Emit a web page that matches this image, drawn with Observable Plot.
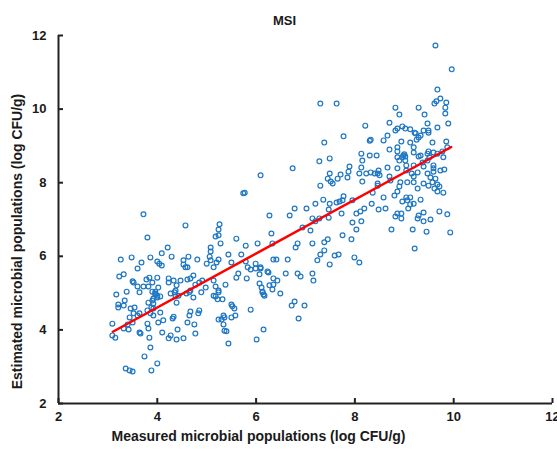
<!DOCTYPE html>
<html>
<head>
<meta charset="utf-8">
<script src="https://cdn.jsdelivr.net/npm/d3@7"></script>
<script src="https://cdn.jsdelivr.net/npm/@observablehq/plot@0.6"></script>
<style>
  html, body { margin: 0; padding: 0; background: #fff; }
  #chart svg { display: block; }
</style>
</head>
<body>
<div id="chart"></div>
<script>
const chartTitle = "MSI";
const xLabel = "Measured microbial populations (log CFU/g)";
const yLabel = "Estimated microbial populations (log CFU/g)";
const xTicks = [2, 4, 6, 8, 10, 12];
const yTicks = [2, 4, 6, 8, 10, 12];

const measured = [
  3.72,3.80,3.26,3.48,3.68,3.86,3.60,3.23,3.32,3.50,
  3.52,3.38,3.17,3.21,3.21,3.32,3.34,3.46,3.54,3.60,
  3.64,3.72,3.78,3.84,3.90,3.82,3.96,4.00,3.82,3.90,
  3.92,3.88,3.80,3.86,3.92,3.64,3.60,3.52,3.44,3.50,
  3.40,3.32,3.42,3.09,3.09,3.15,3.64,3.66,3.80,3.82,
  3.84,3.86,3.74,4.00,3.88,3.36,3.44,3.50,
  3.96,4.00,4.06,3.92,4.35,4.37,4.43,4.39,4.65,4.89,
  5.14,5.22,5.32,5.24,5.50,5.52,5.56,5.89,6.13,6.17,
  3.92,4.06,4.12,4.02,4.33,4.31,4.67,4.85,4.83,4.65,
  4.61,4.75,5.34,5.36,5.30,5.24,5.50,5.58,5.34,4.10,
  4.27,4.23,4.39,4.53,4.41,4.77,5.36,5.40,5.44,6.01,
  6.15,
  5.74,5.77,4.57,5.26,5.24,5.18,5.24,5.28,5.60,5.79,
  6.03,4.21,5.08,5.08,5.06,4.09,4.29,4.00,4.04,4.09,
  4.53,4.53,4.57,4.61,4.63,4.81,5.00,5.14,5.20,5.24,
  5.44,5.50,5.70,5.79,5.83,5.89,5.99,6.09,5.99,6.23,
  5.64,5.60,5.81,6.07,6.07,6.13,6.27,4.02,
  4.23,4.23,4.33,4.39,4.47,4.61,4.67,4.73,4.91,4.85,
  4.77,4.98,5.14,4.37,4.27,4.59,4.67,4.73,5.18,5.24,
  5.18,5.38,3.90,3.96,4.00,5.08,
  6.09,6.74,7.28,7.49,7.49,7.45,7.51,7.55,7.65,7.71,
  7.87,7.89,7.85,8.13,8.30,8.44,8.15,8.13,8.09,8.23,
  8.32,8.40,8.46,8.50,8.15,8.46,7.30,7.36,7.20,7.02,
  6.78,6.68,6.27,7.49,7.63,7.69,7.75,7.77,7.95,7.47,
  7.73,7.47,7.14,7.20,7.28,6.94,8.03,8.11,8.19,8.34,
  8.48,7.95,8.13,8.03,6.31,6.33,6.84,6.80,7.14,7.10,
  7.38,7.45,7.38,7.75,7.93,6.35,6.41,6.64,7.24,7.30,
  7.59,7.67,7.99,8.09,7.49,6.09,
  7.30,7.63,8.21,7.77,7.38,8.30,
  6.25,6.35,6.43,6.35,6.11,6.15,6.33,6.49,6.60,6.84,
  6.90,7.14,7.16,6.72,6.78,6.98,6.86,
  9.63,9.96,9.67,9.73,9.65,9.61,9.85,9.83,9.83,9.89,
  9.67,8.82,8.90,9.29,9.41,8.70,8.96,8.86,8.82,9.02,
  9.12,9.23,9.21,9.33,9.29,9.39,9.49,9.49,9.47,8.32,
  8.58,8.66,8.94,9.12,9.25,9.57,9.85,9.87,8.70,
  8.86,8.86,9.19,9.19,9.33,9.49,9.59,9.77,9.79,8.86,
  8.98,9.02,9.29,9.47,
  9.00,8.96,9.02,8.90,9.04,9.51,9.47,9.67,9.59,9.59,
  9.59,9.73,9.81,9.37,9.39,9.19,9.04,9.15,9.19,9.27,
  9.47,9.53,8.48,8.66,8.86,8.70,8.72,
  8.46,8.92,8.90,8.86,8.80,9.06,9.19,9.27,9.39,
  9.49,9.57,9.63,9.67,9.71,9.61,9.67,9.79,8.36,8.58,
  8.96,9.04,9.06,9.12,9.12,9.19,9.33,8.62,
  9.08,8.86,8.94,8.82,8.94,9.29,9.39,9.27,9.39,9.53,
  9.71,9.87,8.74,9.17,9.45,9.93,9.21
];

const estimated = [
  7.14,6.51,5.91,5.97,5.83,5.97,5.67,5.45,5.51,5.32,
  5.29,5.04,4.96,4.69,4.61,4.66,4.80,4.58,4.61,5.18,
  5.02,5.18,5.37,5.42,5.29,5.18,5.04,5.42,4.74,4.80,
  4.72,4.61,4.53,4.45,4.39,4.45,4.39,4.45,4.34,4.20,
  4.15,4.04,4.01,4.17,3.85,3.79,3.93,3.90,4.17,4.04,
  3.79,3.52,3.28,3.09,2.90,2.95,2.90,2.87,
  4.99,4.93,4.91,4.85,5.02,4.91,4.93,4.74,5.02,5.02,
  4.93,4.83,4.83,5.02,4.69,4.64,4.58,4.55,5.02,4.93,
  4.58,4.47,4.26,4.20,4.36,4.31,4.50,4.53,4.45,4.39,
  4.20,4.15,4.39,4.34,4.28,4.28,4.34,4.39,4.15,3.93,
  3.85,3.77,3.74,3.77,4.01,3.90,3.98,3.96,3.63,3.74,
  4.01,
  7.71,7.73,6.84,6.87,6.73,6.54,6.57,6.35,6.48,6.29,
  6.35,6.24,6.24,6.13,5.99,6.08,5.99,5.86,5.80,5.75,
  5.89,5.78,5.70,5.70,5.99,5.91,5.80,5.70,5.83,5.91,
  6.05,5.83,6.05,5.86,5.70,5.64,5.67,5.70,5.80,5.59,
  5.53,5.42,5.40,5.51,5.26,5.04,5.21,5.15,
  5.40,5.29,5.34,5.21,5.34,5.37,5.40,5.48,5.34,5.29,
  5.23,5.15,5.34,5.07,4.99,4.99,5.07,4.88,5.18,5.07,
  4.91,5.23,5.04,4.96,4.88,5.89,
  8.20,8.39,8.58,8.66,8.25,8.11,8.03,7.98,8.11,8.22,
  8.30,8.44,8.14,8.79,8.74,8.74,8.60,8.41,8.25,8.25,
  8.28,8.25,8.25,8.20,8.03,7.98,7.92,7.54,7.43,7.30,
  7.30,7.11,7.11,7.43,7.46,7.49,7.52,7.63,7.52,7.27,
  7.16,7.05,7.03,6.95,7.03,6.78,7.16,7.22,7.30,7.43,
  7.27,6.92,6.95,6.73,6.62,6.35,6.35,6.24,6.35,6.70,
  6.38,6.46,6.16,6.57,6.46,5.91,5.91,5.91,5.89,6.05,
  6.02,6.05,5.97,5.83,5.78,5.67,
  10.15,10.15,9.55,9.26,9.09,9.14,
  5.56,5.40,5.34,5.23,5.15,4.96,5.10,4.99,5.53,5.53,
  5.45,5.53,5.34,4.66,4.77,4.66,4.31,
  11.73,11.08,10.53,10.29,10.21,10.15,10.18,10.04,9.88,9.61,
  9.50,10.04,9.85,10.04,9.85,9.63,9.53,9.47,9.42,9.47,
  9.45,9.34,9.36,9.28,9.23,9.42,9.42,9.36,9.61,9.17,
  9.15,9.28,9.12,9.09,9.17,9.09,9.12,8.96,8.90,
  8.96,8.85,8.96,8.82,8.74,8.85,8.82,8.85,8.69,8.69,
  8.74,8.71,8.71,8.79,
  8.77,8.69,8.60,8.60,8.47,8.69,8.60,8.79,8.47,8.39,
  8.30,8.33,8.36,8.55,8.44,8.47,8.33,8.25,8.17,8.28,
  8.25,8.14,8.33,8.41,8.39,8.17,8.06,
  7.92,8.01,7.90,7.76,7.65,8.01,8.01,7.84,7.98,
  7.92,8.01,8.11,7.95,7.90,7.84,7.76,7.73,7.73,7.60,
  7.49,7.60,7.52,7.60,7.41,7.43,7.54,7.30,
  7.30,7.16,7.16,7.08,7.03,7.11,7.19,7.03,6.95,7.00,
  7.22,7.14,6.73,6.73,6.67,6.65,6.21
];

// fitted regression line endpoints
const fitX = [3.10, 9.95];
const fitY = [3.95, 8.97];

const points = measured.map((m, i) => ({m, e: estimated[i]}));
const fit = fitX.map((x, i) => ({x, y: fitY[i]}));

const font = "'Liberation Sans', Arial, Helvetica, sans-serif";

const chart = Plot.plot({
  width: 557,
  height: 451,
  marginLeft: 58,
  marginRight: 5,
  marginTop: 35,
  marginBottom: 48,
  style: {fontFamily: font, fontSize: "13px", fontWeight: "bold", color: "#1a1a1a", background: "#fff"},
  x: {domain: [2, 12], label: null},
  y: {domain: [2, 12], label: null},
  marks: [
    Plot.dot(points, {x: "m", y: "e", r: 2.4, stroke: "#1f77c4", strokeWidth: 1.2, fill: "none"}),
    Plot.line(fit, {x: "x", y: "y", stroke: "#ff0000", strokeWidth: 2.5}),
    Plot.ruleX([2], {stroke: "#222", strokeWidth: 2}),
    Plot.ruleY([2], {stroke: "#222", strokeWidth: 2}),
    Plot.axisX({ticks: xTicks, tickSize: -5, tickPadding: 13, strokeWidth: 2, stroke: "#222", fontSize: 13, fontWeight: "bold"}),
    Plot.axisY({ticks: yTicks, tickSize: -5, tickPadding: 17, strokeWidth: 2, stroke: "#222", fontSize: 13, fontWeight: "bold"}),
    Plot.text([chartTitle], {frameAnchor: "top", dy: -20, dx: -21, fontSize: 13, fontWeight: "bold"}),
    Plot.text([xLabel], {frameAnchor: "bottom", textAnchor: "middle", dy: 37, dx: -47, fontSize: 14, fontWeight: "bold"}),
    Plot.text([yLabel], {frameAnchor: "left", textAnchor: "middle", dx: -41, dy: 22, rotate: -90, fontSize: 14, fontWeight: "bold"})
  ]
});
document.getElementById("chart").appendChild(chart);
</script>
</body>
</html>
